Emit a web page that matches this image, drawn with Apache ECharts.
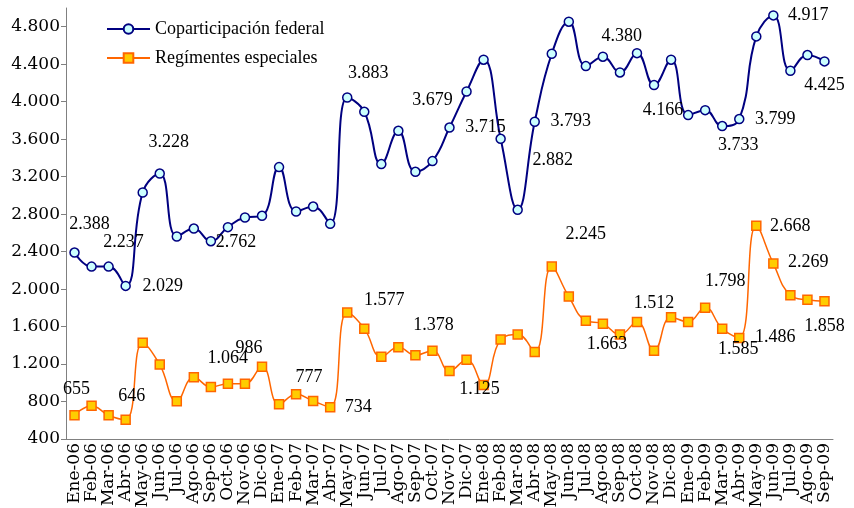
<!DOCTYPE html>
<html>
<head>
<meta charset="utf-8">
<script src="https://cdn.jsdelivr.net/npm/echarts@6/dist/echarts.min.js"></script>
<style>
html, body { margin: 0; padding: 0; background: #fff; }
#chart { width: 854px; height: 508px; }
</style>
</head>
<body>
<div id="chart"></div>
<script>
var meses = ['Ene-06','Feb-06','Mar-06','Abr-06','May-06','Jun-06','Jul-06','Ago-06','Sep-06','Oct-06','Nov-06','Dic-06',
  'Ene-07','Feb-07','Mar-07','Abr-07','May-07','Jun-07','Jul-07','Ago-07','Sep-07','Oct-07','Nov-07','Dic-07',
  'Ene-08','Feb-08','Mar-08','Abr-08','May-08','Jun-08','Jul-08','Ago-08','Sep-08','Oct-08','Nov-08','Dic-08',
  'Ene-09','Feb-09','Mar-09','Abr-09','May-09','Jun-09','Jul-09','Ago-09','Sep-09'];

var coparticipacion = [2390,2240,2240,2034,3031,3233,2561,2646,2511,2661,2764,2782,
  3302,2828,2881,2696,4045,3892,3334,3689,3252,3366,3724,4109,
  4448,3604,2846,3786,4512,4854,4380,4480,4312,4518,4177,4448,
  3857,3910,3740,3815,4697,4921,4330,4498,4430];

var regimenes = [653,756,653,605,1428,1194,803,1059,955,991,991,1172,
  771,877,806,739,1749,1578,1279,1379,1294,1343,1126,1247,
  977,1461,1514,1329,2240,1920,1663,1631,1514,1650,1343,1700,
  1650,1802,1578,1479,2675,2272,1935,1885,1871];

// textos de etiquetas tal como aparecen en el grafico (por mes)
var etiqCopa = {0:'2.388',2:'2.237',3:'2.029',5:'3.228',8:'2.762',17:'3.883',21:'3.679',22:'3.715',
  26:'2.882',27:'3.793',30:'4.380',34:'4.166',38:'3.733',39:'3.799',41:'4.917',44:'4.425'};
var etiqReg = {0:'655',3:'646',7:'1.064',10:'986',13:'777',15:'734',17:'1.577',21:'1.378',24:'1.125',
  28:'2.245',31:'1.663',33:'1.512',37:'1.798',38:'1.585',39:'1.486',40:'2.668',41:'2.269',44:'1.858'};

var ejeY = { min: 400, max: 5000, step: 400 };

// desplazamientos de etiquetas (px)
var despCopa = {0:[15,-28],2:[15,-24],3:[37,0],5:[9,-31],8:[25,1],17:[4,-39],21:[0,-61],22:[36,0],
  26:[35,-50],27:[36,0],30:[36,-30],34:[9,25],38:[16,19],39:[36,0],41:[35,0],44:[0,24]};
var despReg = {0:[2,-26],3:[6,-24],7:[34,-19],10:[4,-35],13:[13,-17],15:[28,0],17:[20,-28],21:[1,-25],24:[-4,4],
  28:[34,-32],31:[4,21],33:[17,-19],37:[20,-26],38:[16,21],39:[36,-1],40:[34,0],41:[35,-1],44:[0,25]};

function fmt(v) {
  return String(v).replace(/\B(?=(\d{3})+(?!\d))/g, '.');
}

function armar(valores, textos, desp) {
  return valores.map(function (v, i) {
    if (textos[i] === undefined) return v;
    return {
      value: v,
      label: { show: true, formatter: textos[i], position: 'inside', offset: desp[i] }
    };
  });
}

var serif = '"Liberation Serif", "Times New Roman", serif';
var serifEje = '"DejaVu Serif", serif';
var chart = echarts.init(document.getElementById('chart'));
var option = {
  backgroundColor: '#fff',
  animation: false,
  grid: { left: 66, right: 21, top: 8, bottom: 69, outerBoundsMode: 'none', containLabel: false },
  legend: {
    orient: 'vertical',
    left: 101,
    top: 15,
    itemWidth: 43,
    itemHeight: 12,
    itemGap: 11,
    textStyle: { fontFamily: serif, fontSize: 18, color: '#000' },
    data: ['Coparticipación federal', 'Regímentes especiales']
  },
  xAxis: {
    type: 'category',
    data: meses,
    boundaryGap: true,
    axisLine: { lineStyle: { color: '#808080', width: 1 } },
    axisTick: { length: 5, lineStyle: { color: '#808080' } },
    axisLabel: { rotate: 90, interval: 0, margin: 4, color: '#000', fontFamily: serifEje, fontSize: 17 }
  },
  yAxis: {
    type: 'value',
    min: ejeY.min,
    max: ejeY.max,
    interval: ejeY.step,
    splitLine: { show: false },
    axisLine: { show: true, lineStyle: { color: '#808080', width: 1 } },
    axisTick: { show: true, length: 5, lineStyle: { color: '#808080' } },
    axisLabel: {
      showMaxLabel: false, margin: 6, color: '#000', fontFamily: serifEje, fontSize: 17,
      formatter: function (v) { return fmt(v); }
    }
  },
  series: [
    {
      name: 'Coparticipación federal',
      type: 'line',
      smooth: 0.45,
      data: armar(coparticipacion, etiqCopa, despCopa),
      symbol: 'circle',
      symbolSize: 9,
      lineStyle: { color: '#000080', width: 2 },
      itemStyle: { color: '#ccffff', borderColor: '#000080', borderWidth: 1.5 },
      label: { color: '#000', fontFamily: serif, fontSize: 18 },
      z: 3
    },
    {
      name: 'Regímentes especiales',
      type: 'line',
      smooth: 0.45,
      data: armar(regimenes, etiqReg, despReg),
      symbol: 'rect',
      symbolSize: 9,
      lineStyle: { color: '#ff6600', width: 1.5 },
      itemStyle: { color: '#ffcc00', borderColor: '#ff6600', borderWidth: 1.5 },
      label: { color: '#000', fontFamily: serif, fontSize: 18 },
      z: 2
    }
  ]
};
chart.setOption(option);
</script>
</body>
</html>
